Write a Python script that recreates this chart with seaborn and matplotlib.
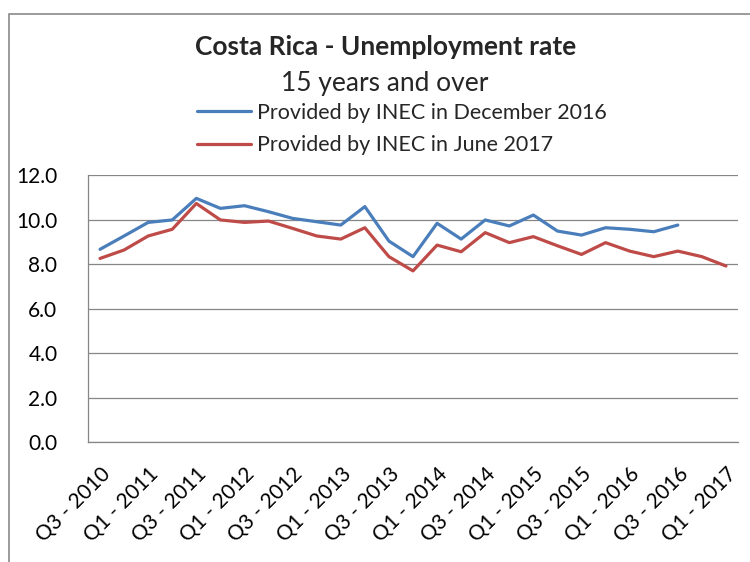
import matplotlib
matplotlib.use("Agg")
import matplotlib.pyplot as plt
import seaborn as sns
import pandas as pd
from matplotlib.patches import Rectangle

quarters = ["Q3 - 2010", "Q4 - 2010", "Q1 - 2011", "Q2 - 2011", "Q3 - 2011", "Q4 - 2011",
            "Q1 - 2012", "Q2 - 2012", "Q3 - 2012", "Q4 - 2012", "Q1 - 2013", "Q2 - 2013",
            "Q3 - 2013", "Q4 - 2013", "Q1 - 2014", "Q2 - 2014", "Q3 - 2014", "Q4 - 2014",
            "Q1 - 2015", "Q2 - 2015", "Q3 - 2015", "Q4 - 2015", "Q1 - 2016", "Q2 - 2016",
            "Q3 - 2016", "Q4 - 2016", "Q1 - 2017"]

dec2016 = [8.66, 9.26, 9.87, 9.98, 10.95, 10.50, 10.62, 10.35, 10.05, 9.90, 9.75, 10.58,
           9.03, 8.33, 9.83, 9.12, 9.98, 9.71, 10.20, 9.48, 9.30, 9.63, 9.56, 9.45, 9.75]
jun2017 = [8.25, 8.63, 9.26, 9.56, 10.72, 9.98, 9.87, 9.93, 9.60, 9.26, 9.12, 9.63,
           8.33, 7.69, 8.85, 8.55, 9.41, 8.96, 9.23, 8.82, 8.43, 8.96, 8.58, 8.33, 8.58,
           8.33, 7.91]

series_names = ["Provided by INEC in December 2016", "Provided by INEC in June 2017"]
tick_labels = quarters[::2]

rows = []
for i, v in enumerate(dec2016):
    rows.append({"pos": i, "rate": v, "series": series_names[0]})
for i, v in enumerate(jun2017):
    rows.append({"pos": i, "rate": v, "series": series_names[1]})
df = pd.DataFrame(rows)

sns.set_theme(style="white")
plt.rcParams["font.family"] = ["Lato", "DejaVu Sans"]

fig = plt.figure(figsize=(7.5, 5.62), dpi=100)
ax = fig.add_axes([88 / 750, 1 - 442 / 562, 650 / 750, 267 / 562])

sns.lineplot(data=df, x="pos", y="rate", hue="series",
             palette=["#4A7EBB", "#BE4B48"], linewidth=2.3, ax=ax, legend=True)

grey = "#868686"
ax.set_xlim(-0.5, len(quarters) - 0.5)
ax.set_ylim(0, 12)
ax.set_yticks([0, 2, 4, 6, 8, 10, 12])
ax.set_yticklabels([f"{t:.1f}" for t in [0, 2, 4, 6, 8, 10, 12]], fontsize=15)
ax.yaxis.grid(True, color=grey, linewidth=0.9)
ax.set_axisbelow(True)

ax.set_xticks(list(range(0, len(quarters), 2)))
ax.set_xticklabels(tick_labels, rotation=45, ha="right", rotation_mode="anchor", fontsize=15)
ax.set_xticks([k + 0.5 for k in range(-1, len(quarters))], minor=True)
ax.tick_params(axis="x", which="major", length=0, pad=16)
ax.tick_params(axis="x", which="minor", length=10, width=0.9, color=grey, direction="out")
ax.tick_params(axis="y", which="major", length=10, width=0.9, color=grey, direction="out", pad=12)
ax.tick_params(labelcolor="black")

for s in ["top", "right"]:
    ax.spines[s].set_visible(False)
for s in ["left", "bottom"]:
    ax.spines[s].set_color(grey)
    ax.spines[s].set_linewidth(0.9)
ax.set_xlabel("")
ax.set_ylabel("")

handles, labels = ax.get_legend_handles_labels()
ax.legend(handles, labels, loc="center left", bbox_to_anchor=(197 / 750, 1 - 129 / 562),
          bbox_transform=fig.transFigure, frameon=False, fontsize=15.5,
          handlelength=2.5, handletextpad=0.3, labelspacing=0.58, borderpad=0, borderaxespad=0)

fig.text(386 / 750, 1 - 47 / 562, "Costa Rica - Unemployment rate", ha="center", va="center",
         fontsize=19, fontweight="bold")
fig.text(385 / 750, 1 - 83 / 562, "15 years and over", ha="center", va="center", fontsize=19)

fig.patches.append(Rectangle((9 / 750, -0.1), 1.2, 1.1 - 14 / 562, transform=fig.transFigure,
                             fill=False, edgecolor="#8a8a8a", linewidth=1.2))

fig.savefig("out.png", dpi=100)
